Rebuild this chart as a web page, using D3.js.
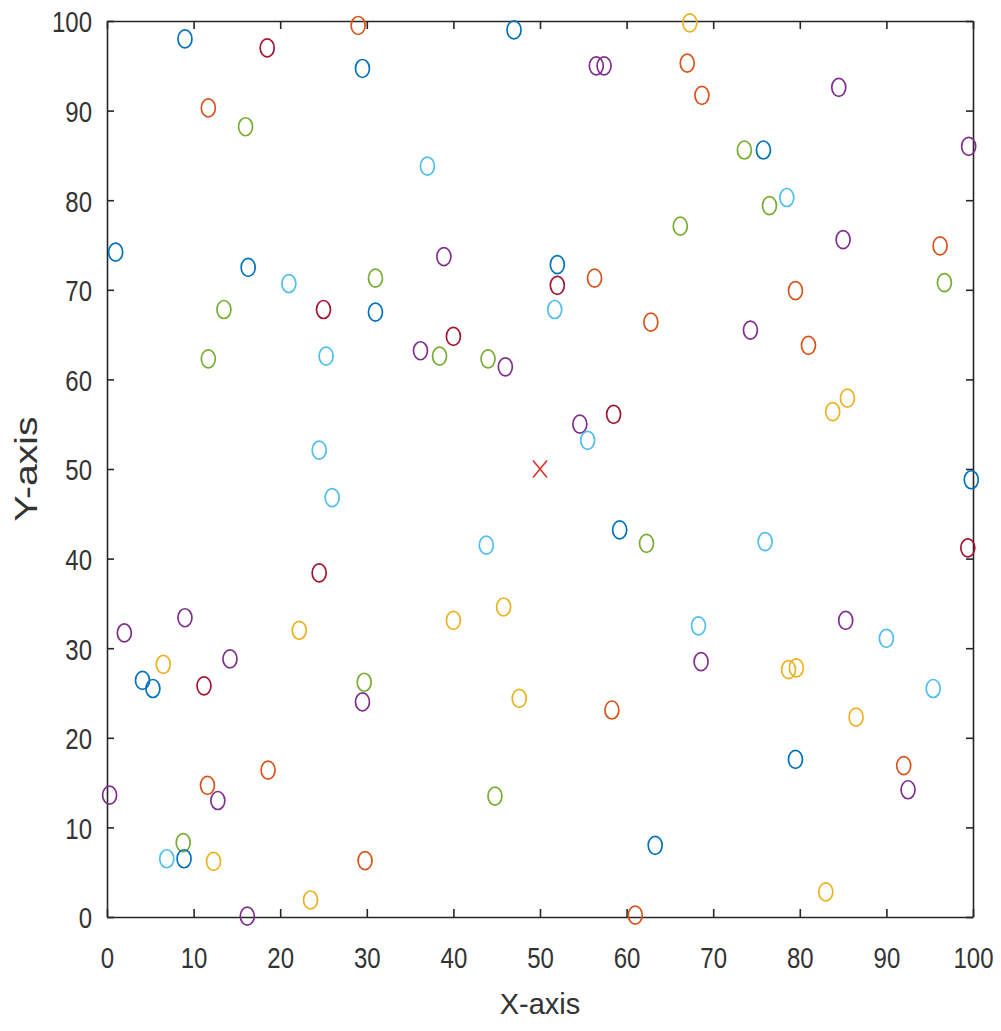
<!DOCTYPE html>
<html>
<head>
<meta charset="utf-8">
<script src="https://cdn.jsdelivr.net/npm/d3@7"></script>
<style>
  body { margin: 0; background: #fff; }
  svg text { font-family: "Liberation Sans", Arial, sans-serif; fill: #333; }
</style>
</head>
<body>
<script>
// scatter of random-looking points, MATLAB default colour order

// MATLAB colour order
var palette = ["#0072BD", "#D95319", "#EDB120", "#7E2F8E", "#77AC30", "#4DBEEE", "#A2142F"];

// point x values
var xVals = [9, 18.5, 29, 29.5, 47, 56.5, 57.4, 67.3, 67, 68.7,
             84.5, 11.7, 16, 37, 73.6, 75.8, 99.5, 76.5, 78.5, 1,
             16.3, 21, 13.5, 25, 31, 31, 38.9, 52, 52, 51.7,
             56.3, 66.2, 62.8, 74.3, 79.5, 85, 96.2, 96.7, 81, 11.7,
             25.3, 36.2, 38.4, 40, 44, 46, 83.8, 85.5, 54.6, 58.5,
             55.5, 24.5, 26, 99.8, 59.2, 62.3, 43.8, 76, 99.4, 24.5,
             2, 9, 6.5, 4.1, 5.3, 11.2, 14.2, 22.2, 29.5, 29.7,
             40, 45.8, 47.6, 58.3, 68.3, 68.6, 78.7, 79.6, 85.3, 90,
             95.4, 86.5, 79.5, 92, 92.5, 0.3, 11.6, 12.8, 18.6, 44.8,
             6.9, 8.8, 8.9, 12.3, 29.8, 63.3, 16.2, 23.5, 61, 83];

// point y values
var yVals = [98, 97, 99.5, 94.7, 99, 95, 95, 99.8, 95.3, 91.7,
             92.6, 90.3, 88.2, 83.8, 85.6, 85.6, 86, 79.4, 80.3, 74.2,
             72.5, 70.7, 67.8, 67.8, 71.3, 67.5, 73.7, 72.8, 70.5, 67.8,
             71.3, 77.1, 66.4, 65.5, 69.9, 75.6, 74.9, 70.8, 63.8, 62.3,
             62.6, 63.2, 62.6, 64.8, 62.3, 61.4, 56.4, 57.9, 55, 56.1,
             53.2, 52.1, 46.8, 48.8, 43.2, 41.7, 41.5, 41.9, 41.2, 38.4,
             31.7, 33.4, 28.2, 26.4, 25.5, 25.8, 28.8, 32, 24, 26.2,
             33.1, 34.6, 24.4, 23.1, 32.5, 28.5, 27.6, 27.8, 33.1, 31.1,
             25.5, 22.3, 17.6, 16.9, 14.2, 13.6, 14.7, 13, 16.4, 13.5,
             6.5, 8.3, 6.5, 6.2, 6.3, 8, 0.1, 1.9, 0.2, 2.8];

// colour index of each point (into palette)
var colorIdx = [0, 6, 1, 0, 0, 3, 3, 2, 1, 1,
                3, 1, 4, 5, 4, 0, 3, 4, 5, 0,
                0, 5, 4, 6, 4, 0, 3, 0, 6, 5,
                1, 4, 1, 3, 1, 3, 1, 4, 1, 4,
                5, 3, 4, 6, 4, 3, 2, 2, 3, 6,
                5, 5, 5, 0, 0, 4, 5, 5, 6, 6,
                3, 3, 2, 0, 0, 6, 3, 2, 3, 4,
                2, 2, 2, 1, 5, 3, 2, 2, 3, 5,
                5, 2, 0, 1, 3, 3, 1, 3, 1, 4,
                5, 4, 0, 2, 1, 0, 3, 2, 1, 2];

// centre marker
var centerPt = [50, 50];

var xTicks = d3.range(0, 101, 10),
    yTicks = d3.range(0, 101, 10);

var width = 1001, height = 1031;
var margin = {left: 107, top: 21, right: 28, bottom: 114};

// the picture is squeezed sideways, so text is narrowed to match
var squeeze = 0.8;

var svg = d3.select("body").append("svg")
    .attr("width", width)
    .attr("height", height);

var x = d3.scaleLinear().domain([0, 100]).range([margin.left, width - margin.right]);
var y = d3.scaleLinear().domain([0, 100]).range([height - margin.bottom, margin.top]);

var axisColor = "#262626";

// box + inward ticks on all four sides
svg.append("g")
    .attr("class", "xaxis")
    .attr("transform", "translate(0," + y(0) + ")")
    .call(d3.axisBottom(x).tickValues(xTicks).tickSizeInner(-8).tickSizeOuter(0));
svg.append("g")
    .attr("transform", "translate(0," + y(100) + ")")
    .call(d3.axisTop(x).tickValues(xTicks).tickSizeInner(-8).tickSizeOuter(0).tickFormat(""));
svg.append("g")
    .attr("class", "yaxis")
    .attr("transform", "translate(" + x(0) + ",0)")
    .call(d3.axisLeft(y).tickValues(yTicks).tickSizeInner(-7).tickSizeOuter(0));
svg.append("g")
    .attr("transform", "translate(" + x(100) + ",0)")
    .call(d3.axisRight(y).tickValues(yTicks).tickSizeInner(-7).tickSizeOuter(0).tickFormat(""));

svg.selectAll(".domain").attr("stroke", axisColor).attr("stroke-width", 1.6);
svg.selectAll(".tick line").attr("stroke", axisColor).attr("stroke-width", 1.6);

svg.selectAll(".xaxis .tick text")
    .attr("font-size", 30)
    .attr("y", 51)
    .attr("dy", 0)
    .attr("transform", "scale(" + squeeze + ",1)");
svg.selectAll(".yaxis .tick text")
    .attr("font-size", 30)
    .attr("x", -15 / squeeze)
    .attr("dy", "0.36em")
    .attr("transform", "scale(" + squeeze + ",1)");

// points
var pts = d3.range(xVals.length);
svg.append("g").selectAll("ellipse")
    .data(pts)
    .enter()
    .append("ellipse")
    .attr("cx", function(i){ return x(xVals[i]); })
    .attr("cy", function(i){ return y(yVals[i]); })
    .attr("rx", 7)
    .attr("ry", 9)
    .attr("fill", "none")
    .attr("stroke", function(i){ return palette[colorIdx[i]]; })
    .attr("stroke-width", 1.7);

// red x at the centre
var cx = x(centerPt[0]), cy = y(centerPt[1]), sx = 7, sy = 8.5;
svg.append("path")
    .attr("d", "M" + (cx - sx) + "," + (cy - sy) + "L" + (cx + sx) + "," + (cy + sy) +
               "M" + (cx - sx) + "," + (cy + sy) + "L" + (cx + sx) + "," + (cy - sy))
    .attr("stroke", "#e0302a")
    .attr("stroke-width", 1.6)
    .attr("fill", "none");

// axis labels
svg.append("text")
    .attr("x", (x(0) + x(100)) / 2)
    .attr("y", 1014)
    .attr("text-anchor", "middle")
    .attr("font-size", 29)
    .text("X-axis");

svg.append("text")
    .attr("transform", "translate(37," + (y(0) + y(100)) / 2 + ") rotate(-90) scale(1,0.78)")
    .attr("text-anchor", "middle")
    .attr("font-size", 39)
    .text("Y-axis");
</script>
</body>
</html>
